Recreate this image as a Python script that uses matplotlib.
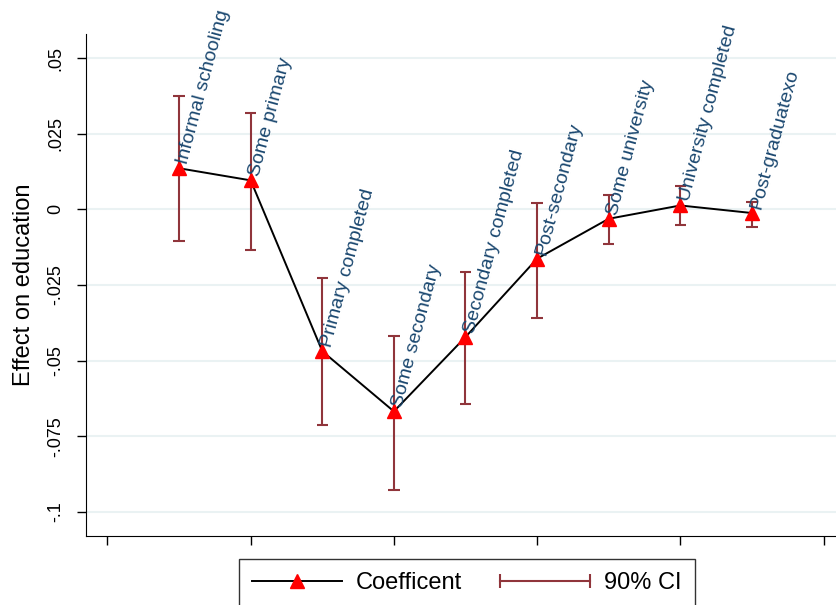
import matplotlib
matplotlib.use("Agg")
import matplotlib.pyplot as plt
from matplotlib.lines import Line2D
from matplotlib.legend_handler import HandlerLine2D

plt.rcParams['font.family'] = ['Liberation Sans', 'DejaVu Sans']

# education levels, coefficients and 90% CI bounds
levels = ["Informal schooling", "Some primary", "Primary completed", "Some secondary",
          "Secondary completed", "Post-secondary", "Some university",
          "University completed", "Post-graduatexo"]
xpos = [1, 2, 3, 4, 5, 6, 7, 8, 9]
coef = [0.0136, 0.0096, -0.0469, -0.0668, -0.0422, -0.0163, -0.0031, 0.0013, -0.0012]
ci_low = [-0.0103, -0.0133, -0.0712, -0.0927, -0.0643, -0.0360, -0.0116, -0.0051, -0.0057]
ci_high = [0.0374, 0.0319, -0.0228, -0.0417, -0.0208, 0.0021, 0.0046, 0.0077, 0.0026]

yticks = [0.05, 0.025, 0, -0.025, -0.05, -0.075, -0.1]
ytick_labels = [".05", ".025", "0", "-.025", "-.05", "-.075", "-.1"]
xticks = [0, 2, 4, 6, 8, 10]

navy = '#1a476f'
maroon = '#90353b'

fig = plt.figure(figsize=(8.37, 6.05), dpi=100)
ax = fig.add_axes([86 / 837, 69 / 605, 759 / 837, 502 / 605])

ax.vlines(xpos, ci_low, ci_high, color=maroon, lw=1.5, zorder=2)
ax.hlines(ci_low, [x - 0.08 for x in xpos], [x + 0.08 for x in xpos], color=maroon, lw=1.5, zorder=2)
ax.hlines(ci_high, [x - 0.08 for x in xpos], [x + 0.08 for x in xpos], color=maroon, lw=1.5, zorder=2)
ax.plot(xpos, coef, color='black', lw=1.4, zorder=3)
ax.plot(xpos, coef, ls='none', marker='^', ms=10, color='red', zorder=4)

# labels start a little past the marker, rotated
for x, y, lab in zip(xpos, coef, levels):
    ax.annotate(lab, (x, y), xytext=(3, 3), textcoords='offset points',
                rotation=75, rotation_mode='anchor', ha='left', va='center',
                color=navy, fontsize=14, zorder=5)

ax.set_xlim(-0.3, 10.3)
ax.set_ylim(-0.108, 0.058)
ax.set_xticks(xticks)
ax.set_xticklabels([])
ax.set_yticks(yticks)
ax.set_yticklabels(ytick_labels, rotation=90, va='center', fontsize=13)
ax.tick_params(axis='both', length=6.5, width=1, color='black')
ax.tick_params(axis='y', pad=9)
ax.grid(axis='y', color='#eaf2f3', lw=1.5)
ax.set_axisbelow(True)
for s in ['top', 'right']:
    ax.spines[s].set_visible(False)
ax.set_ylabel("Effect on education", fontsize=17)
ax.yaxis.set_label_coords(-51 / 759, 0.5)

h_coef = Line2D([], [], color='black', lw=1.4, marker='^', ms=10,
                markerfacecolor='red', markeredgecolor='red')
h_ci = Line2D([], [], color=maroon, lw=1.5, marker='|', ms=10, mew=1.5)
leg = fig.legend([h_coef, h_ci], ["Coefficent", "90% CI"], ncol=2, loc='center',
                 bbox_to_anchor=(467 / 837, 22 / 605), fontsize=17, frameon=True,
                 fancybox=False, edgecolor='black', handlelength=3.8, handletextpad=0.6,
                 columnspacing=1.6, borderpad=0.55, numpoints=1,
                 handler_map={h_ci: HandlerLine2D(numpoints=2, marker_pad=0)})
leg.get_frame().set_linewidth(1)

fig.savefig("out.png", dpi=100)
